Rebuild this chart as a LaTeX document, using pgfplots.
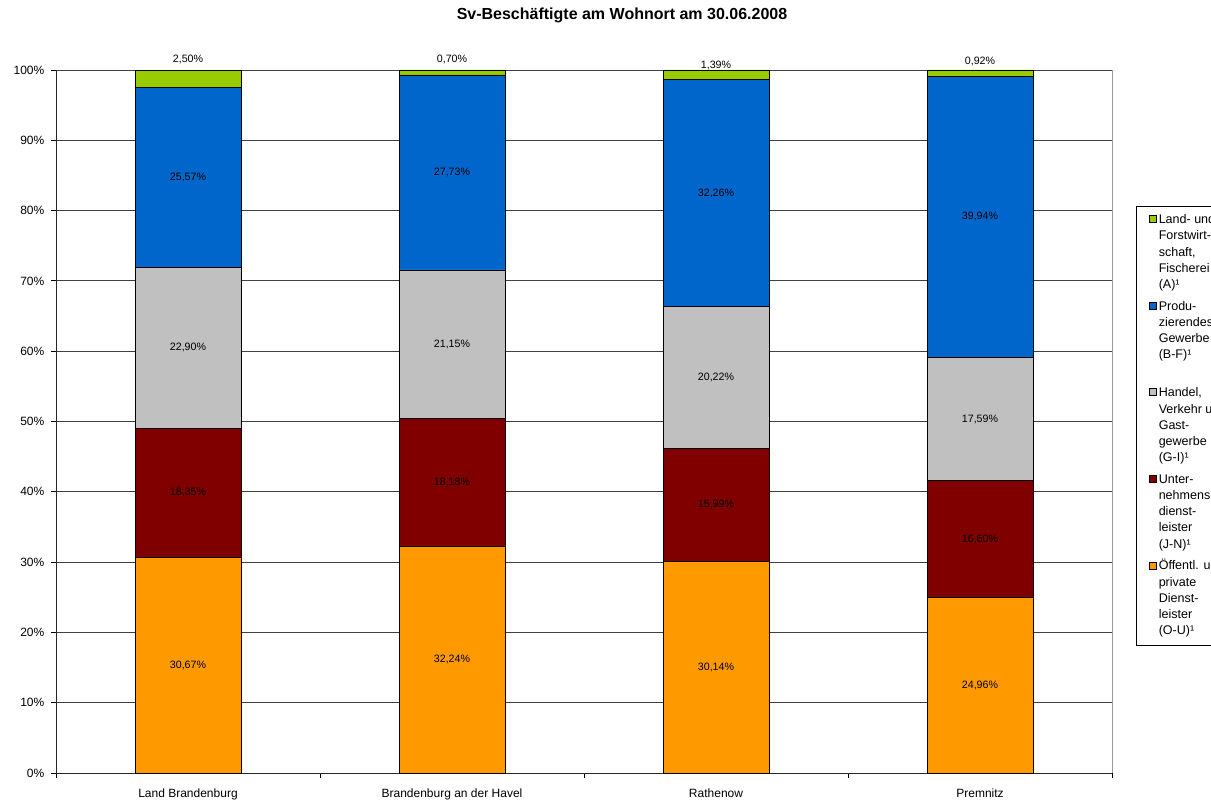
\documentclass[border=0pt]{standalone}
\usepackage{pgfplots}
\pgfplotsset{compat=1.18}
\usepackage{pgfplotstable}
\usepackage{fontspec}
\setmainfont{Liberation Sans}
\definecolor{cGreen}{HTML}{99CC00}
\definecolor{cBlue}{HTML}{0066CC}
\definecolor{cGray}{HTML}{C0C0C0}
\definecolor{cRed}{HTML}{800000}
\definecolor{cOrange}{HTML}{FF9900}

% columns: x, Oeffentl., Unternehmensdienstl., Handel, Produzierendes Gewerbe, Land- und Forstw., label offset (px) of the top label
\pgfplotstableread{
x oe un ha pr la lo
0 30.67 18.35 22.90 25.57 2.50 19.5
1 32.24 18.18 21.15 27.73 0.70 12.5
2 30.14 15.99 20.22 32.26 1.39 9.2
3 24.96 16.60 17.59 39.94 0.92 11.5
}\data

\pgfplotsset{
  lgd/.style={legend image code/.code={\draw[##1, line width=0.5pt] (0pt,0.75pt) rectangle (5.25pt,6pt);}},
  lab/.style={
    point meta=explicit,
    nodes near coords={\pgfmathprintnumber[fixed,fixed zerofill,precision=2,use comma]{\pgfplotspointmeta}\%},
    nodes near coords align={center},
    every node near coord/.append style={font=\fontsize{8}{9}\selectfont, text=black, anchor=center},
  },
}

\newcommand{\legtxt}[1]{\parbox[t]{70pt}{\fontsize{9.4}{12.15}\selectfont #1}}

\begin{document}
\begin{tikzpicture}
\useasboundingbox (0pt,0pt) rectangle (908.25pt,600pt);
\clip (0pt,0pt) rectangle (908.25pt,600pt);
\node[font=\fontsize{12}{14}\selectfont\bfseries] at (466.5pt,588.75pt) {Sv-Beschäftigte am Wohnort am 30.06.2008};
\begin{axis}[
  at={(42pt,20.25pt)}, anchor=south west,
  scale only axis, width=792pt, height=527.25pt,
  /pgf/number format/assume math mode=true,
  xmin=-0.5, xmax=3.5, ymin=0, ymax=100,
  clip=false,
  ybar stacked, bar width=79.5pt,
  axis x line*=bottom, axis y line*=left,
  axis line style={black!85, line width=0.6pt},
  xtick={-0.5,0.5,1.5,2.5,3.5}, xticklabels={},
  extra x ticks={0,1,2,3},
  extra x tick labels={Land Brandenburg, Brandenburg an der Havel, Rathenow, Premnitz},
  extra x tick style={major tick length=0pt, tick label style={font=\fontsize{9}{11}\selectfont, yshift=-8.25pt}},
  ytick={0,10,...,100},
  yticklabel={\pgfmathprintnumber{\tick}\%},
  yticklabel style={font=\fontsize{9}{11}\selectfont, xshift=-1.5pt},
  tick align=outside, major tick length=3.75pt,
  tick style={black, line width=0.6pt},
  ymajorgrids, major grid style={black!75, line width=0.7pt},
  legend style={at={(1.02273,0.80654)}, anchor=north west, draw=black, line width=0.6pt,
    inner xsep=9.5pt, inner ysep=4.5pt, row sep=4.15pt, column sep=1.5pt,
    cells={anchor=base west}, nodes={inner sep=0pt, text depth=, text height=}},
  reverse legend,
  after end axis/.code={\draw[black!40, line width=0.6pt] (rel axis cs:1,0) -- (rel axis cs:1,1);},
]
\addplot[fill=cOrange, draw=black, line width=0.5pt, lgd, lab] table[x=x, y=oe, meta=oe]{\data};
\addlegendentry{\legtxt{\strut Öffentl. u.\\private\\Dienst-\\leister\\(O-U)¹\strut}}
\addplot[fill=cRed, draw=black, line width=0.5pt, lgd, lab] table[x=x, y=un, meta=un]{\data};
\addlegendentry{\legtxt{\strut Unter-\\nehmens-\\dienst-\\leister\\(J-N)¹\strut}}
\addplot[fill=cGray, draw=black, line width=0.5pt, lgd, lab] table[x=x, y=ha, meta=ha]{\data};
\addlegendentry{\legtxt{\strut Handel,\\Verkehr u.\\Gast-\\gewerbe\\(G-I)¹\strut}}
\addplot[fill=cBlue, draw=black, line width=0.5pt, lgd, lab] table[x=x, y=pr, meta=pr]{\data};
\addlegendentry{\legtxt{\strut Produ-\\zierendes\\Gewerbe\\(B-F)¹\\\strut}}
\addplot[fill=cGreen, draw=black, line width=0.5pt, lgd, lab,
  visualization depends on={\thisrow{lo} \as \loff},
  every node near coord/.append style={yshift=\loff*0.75pt}]
  table[x=x, y=la, meta=la]{\data};
\addlegendentry{\legtxt{\strut Land- und\\Forstwirt-\\schaft,\\Fischerei\\(A)¹\strut}}
\end{axis}
\end{tikzpicture}
\end{document}
